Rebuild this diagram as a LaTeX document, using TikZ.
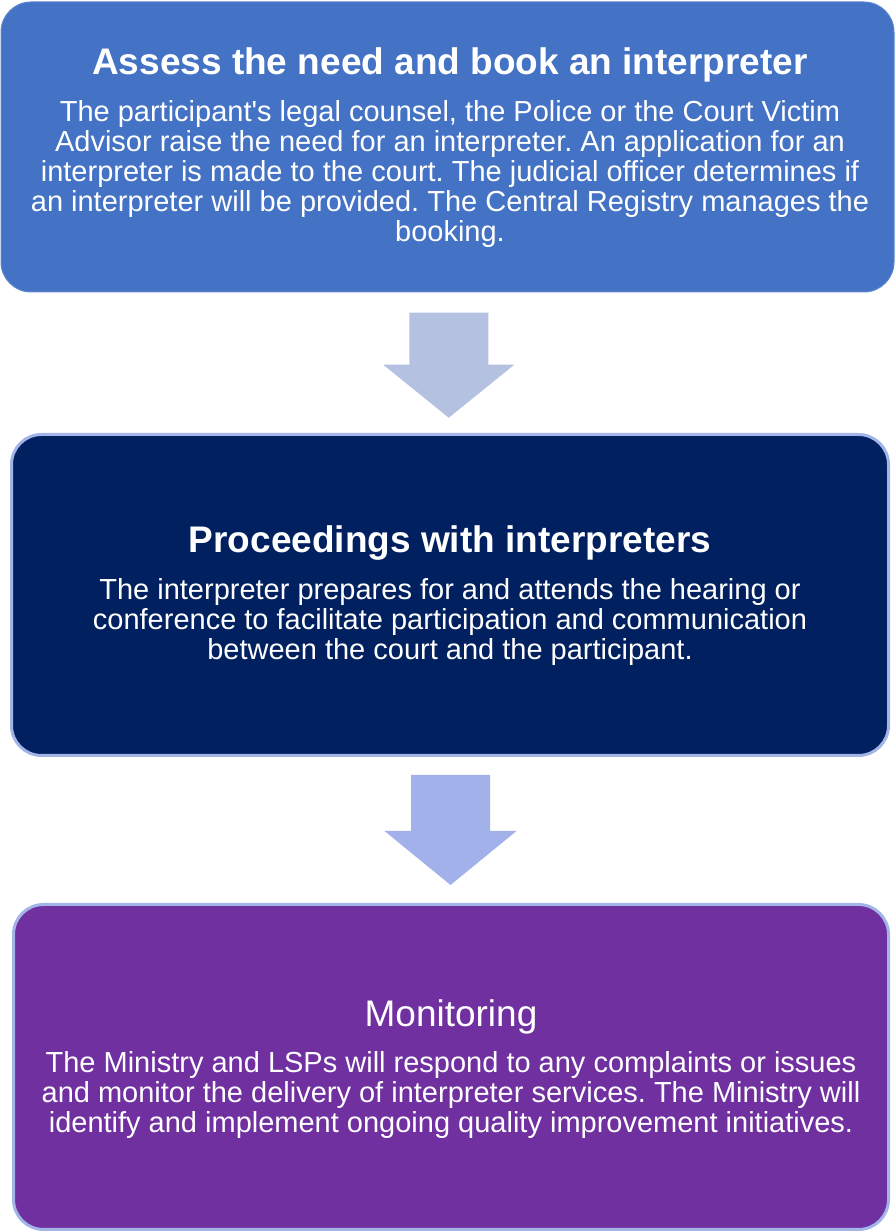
\documentclass[tikz,border=0pt]{standalone}
\usepackage{fontspec}
\setmainfont{Liberation Sans}
\frenchspacing
\usetikzlibrary{
  positioning,
  calc,
}
\definecolor{stageblue}{HTML}{4472C4}
\definecolor{stagenavy}{HTML}{002060}
\definecolor{stagepurple}{HTML}{7030A0}
\definecolor{edgeblue}{HTML}{A3B4E8}
\definecolor{arrowgrey}{HTML}{B4C1E1}
\definecolor{arrowblue}{HTML}{A3B1EA}
\tikzset{
  stage box/.style={
    rectangle,
    rounded corners=30pt,
    line width=3pt,
    draw=edgeblue
  },
  stage title/.style={
    text=white,
    inner sep=0pt,
    anchor=base,
    font=\fontsize{37}{40}\selectfont\bfseries
  },
  stage text/.style={
    text=white,
    inner sep=0pt,
    anchor=base,
    align=center,
    font=\fontsize{29}{30}\selectfont
  }
}

\begin{document}
\begin{tikzpicture}[x=1pt, y=1pt]
  \useasboundingbox (0,0) rectangle (895,1232);

  % the three stages
  \node[stage box, fill=stageblue, draw=stageblue!85!white, line width=1pt,
        minimum width=893pt, minimum height=290pt] (assess) at (447.5,1085) {};
  \node[stage box, fill=stagenavy, minimum width=877pt, minimum height=321pt] (proceed) at (450,637) {};
  \node[stage box, fill=stagepurple, minimum width=875pt, minimum height=325pt] (monitor) at (451,165) {};

  % text: base of a stage text is the baseline of its last line
  \node[stage title] (assess title) at (450,1157) {Assess the need and book an interpreter};
  \node[stage text] (assess text) at (450,990) {The participant\textquotesingle s legal counsel, the Police or the Court Victim\\
    Advisor raise the need for an interpreter. An application for an\\
    interpreter is made to the court. The judicial officer determines if\\
    an interpreter will be provided. The Central Registry manages the\\
    booking.};

  \node[stage title] (proceed title) at (450,679) {Proceedings with interpreters};
  \node[stage text] (proceed text) at (450,572) {The interpreter prepares for and attends the hearing or\\
    conference to facilitate participation and communication\\
    between the court and the participant.};

  \node[stage title, font=\fontsize{37}{40}\selectfont] (monitor title) at (451,205) {Monitoring};
  \node[stage text] (monitor text) at (451,99) {The Ministry and LSPs will respond to any complaints or issues\\
    and monitor the delivery of interpreter services. The Ministry will\\
    identify and implement ongoing quality improvement initiatives.};

  % block arrows between the stages
  \coordinate (first gap) at ($(assess.south)!0.5!(proceed.north)$);
  \coordinate (second gap) at ($(proceed.south)!0.5!(monitor.north)$);
  \fill[arrowgrey] (first gap) ++(-39.5,50) -- ++(79,0) -- ++(0,-52) -- ++(26,0)
    -- ++(-65.5,-53) -- ++(-65.5,53) -- ++(26,0) -- cycle;
  \fill[arrowblue] (second gap) ++(-39.5,55) -- ++(79,0) -- ++(0,-56) -- ++(26.5,0)
    -- ++(-66,-54) -- ++(-66,54) -- ++(26.5,0) -- cycle;
\end{tikzpicture}
\end{document}
